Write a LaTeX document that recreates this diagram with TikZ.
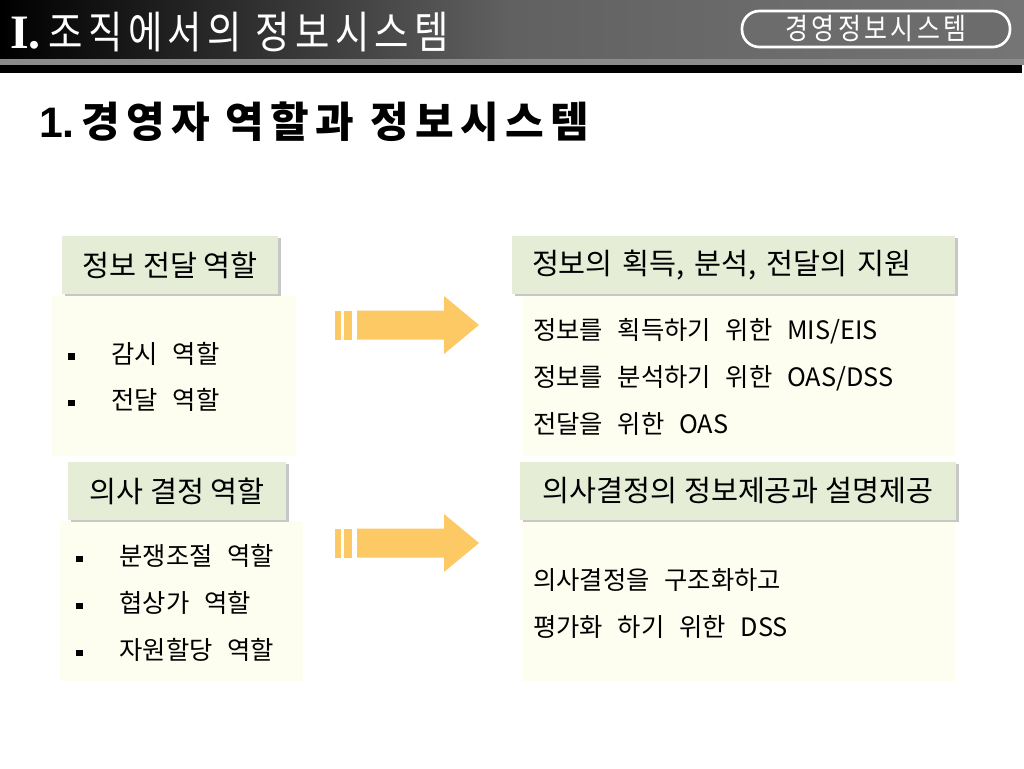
\documentclass[tikz,border=0pt]{standalone}
\usepackage{fontspec}
\setmainfont{Noto Sans CJK KR}
\newfontfamily\hdfont[FakeStretch=0.85,LetterSpace=12]{Noto Sans CJK KR}
\newfontfamily\titlefont[LetterSpace=15]{Noto Sans CJK KR}
\newfontfamily\bodyfont[WordSpace=2.6]{Noto Sans CJK KR}
\newfontfamily\romfont{Liberation Serif}
\newfontfamily\arialfont{Liberation Sans}
\usetikzlibrary{shadows}
\definecolor{lblgreen}{RGB}{229,237,215}
\definecolor{bodycream}{RGB}{253,253,240}
\definecolor{arrowgold}{RGB}{252,201,100}
\definecolor{hdgray}{RGB}{108,108,108}
\newcommand\itm{\makebox[34pt][l]{\hspace{1.5pt}\rule[0.25ex]{5pt}{5pt}}}
\tikzset{
  lbl/.style={fill=lblgreen,minimum height=43.5pt,inner sep=0pt,font=\fontsize{22}{26}\selectfont,
    drop shadow={shadow xshift=2pt,shadow yshift=-1.5pt,fill=black!22,opacity=1}},
  bodybox/.style={fill=bodycream,minimum height=120pt,inner sep=0pt},
  line/.style={anchor=west,inner sep=0pt,font=\bodyfont\fontsize{19}{23}\selectfont}
}
\begin{document}
\begin{tikzpicture}[x=0.75pt,y=-0.75pt]
\useasboundingbox (0,0) rectangle (1024,768);
\shade[left color=black,right color=black!62] (0,0) rectangle (512,59);
\shade[left color=black!62,right color=black!54] (512,0) rectangle (1024,59);
\fill[black!45] (0,59) rectangle (1024,65);
\fill[black] (0,65) rectangle (1022,73);
\node[anchor=west,text=white,inner sep=0pt] (chap) at (10,32) {{\romfont\bfseries\fontsize{36}{38}\selectfont I.}\hspace{6pt}{\hdfont\fontsize{33}{36}\selectfont 조직에서의 정보시스템}};
\node[fill=black!55,rounded corners=13pt,minimum width=201pt,minimum height=27pt,inner sep=0pt] at (878,31) {};
\node[draw=white,line width=2pt,fill=hdgray,rounded corners=13pt,minimum width=201pt,minimum height=27pt,inner sep=0pt,text=white,font=\hdfont\fontsize{22}{24}\selectfont] (subj) at (876,29) {경영정보시스템};
\node[anchor=west,inner sep=0pt] (title) at (39,122) {{\arialfont\bfseries\fontsize{32}{34}\selectfont 1.}\hspace{5pt}{\titlefont\bfseries\fontsize{31.5}{34}\selectfont 경영자 역할과 정보시스템}};
\node[bodybox,minimum width=183pt] (b1) at (174,376) {};
\node[bodybox,minimum width=324.75pt] (b2) at (738.5,376) {};
\node[bodybox,minimum width=182.25pt] (b3) at (181.5,601) {};
\node[bodybox,minimum width=324.75pt] (b4) at (738.5,601) {};
\node[lbl,minimum width=162pt] (l1) at (170,265) {정보 전달 역할};
\node[lbl,minimum width=332.25pt,text width=302.25pt,align=left,inner xsep=15pt] (l2) at (733.5,265) {정보의 획득, 분석, 전달의 지원};
\node[lbl,minimum width=163.5pt] (l3) at (177,491) {의사 결정 역할};
\node[lbl,minimum width=327pt] (l4) at (738,491) {의사결정의 정보제공과 설명제공};
\node[line] (a1) at (66,354) {\itm 감시 역할};
\node[line] (a2) at (66,400) {\itm 전달 역할};
\node[line] (c1) at (74,556) {\itm 분쟁조절 역할};
\node[line] (c2) at (74,603) {\itm 협상가 역할};
\node[line] (c3) at (74,650) {\itm 자원할당 역할};
\node[line] (r1) at (533,331) {정보를 획득하기 위한 MIS/EIS};
\node[line] (r2) at (533,378) {정보를 분석하기 위한 OAS/DSS};
\node[line] (r3) at (533,424) {전달을 위한 OAS};
\node[line] (s1) at (533,580) {의사결정을 구조화하고};
\node[line] (s2) at (533,627) {평가화 하기 위한 DSS};
\foreach \y in {325,543}{
  \fill[arrowgold] (335,\y-14.5) rectangle (341,\y+14.5);
  \fill[arrowgold] (344,\y-14.5) rectangle (352,\y+14.5);
  \fill[arrowgold] (357,\y-14.5) -- (444,\y-14.5) -- (444,\y-29) -- (479,\y) -- (444,\y+29) -- (444,\y+14.5) -- (357,\y+14.5) -- cycle;
}
\end{tikzpicture}
\end{document}
